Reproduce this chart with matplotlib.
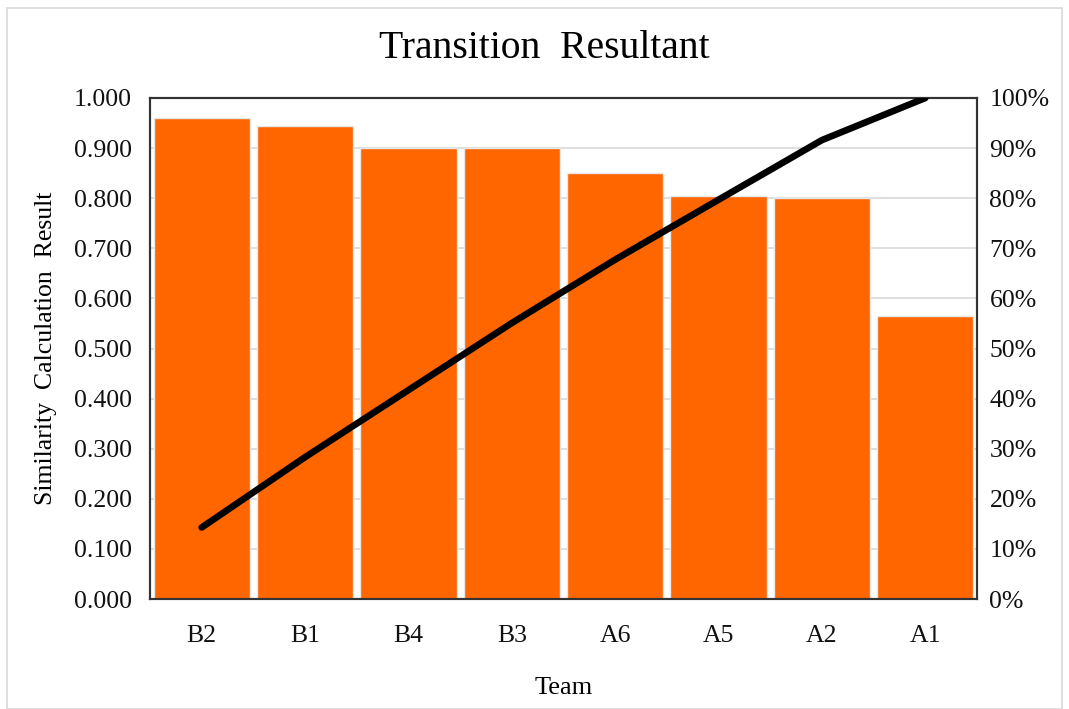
import numpy as np
import matplotlib.pyplot as plt
from matplotlib.ticker import PercentFormatter

plt.rcParams['font.family'] = ['Liberation Serif', 'DejaVu Serif']

# similarity score per team, sorted high to low
teams = ["B2", "B1", "B4", "B3", "A6", "A5", "A2", "A1"]
similarity = [0.960, 0.944, 0.900, 0.900, 0.851, 0.804, 0.800, 0.565]

# cumulative share for the pareto line
cum_share = np.cumsum(similarity) / np.sum(similarity)

fig = plt.figure(figsize=(10.69, 7.09), dpi=100)
ax = fig.add_axes([150 / 1069, 1 - 599 / 709, 827 / 1069, 501 / 709])

x = np.arange(len(teams))
ax.bar(x, similarity, width=0.93, color="#ff6600", edgecolor="#e8e8e8",
       linewidth=1.0, zorder=2)
ax.set_xlim(-0.5, len(teams) - 0.5)
ax.set_ylim(0, 1)
ax.set_yticks(np.arange(0, 1.01, 0.1))
ax.set_yticklabels([f"{v:.3f}" for v in np.arange(0, 1.01, 0.1)])
ax.set_xticks(x)
ax.set_xticklabels(teams)
ax.grid(axis="y", color="#d9d9d9", linewidth=1.2, zorder=0)
ax.set_axisbelow(True)
ax.tick_params(axis="both", length=0, labelsize=18.5, colors="#111111")
ax.tick_params(axis="x", pad=19)
ax.tick_params(axis="y", pad=13)
for s in ax.spines.values():
    s.set_color("#333333")
    s.set_linewidth(1.5)

ax2 = ax.twinx()
ax2.plot(x, cum_share, color="black", linewidth=4.8, solid_capstyle="round", zorder=3)
ax2.set_ylim(0, 1)
ax2.set_yticks(np.arange(0, 1.01, 0.1))
ax2.yaxis.set_major_formatter(PercentFormatter(1.0, decimals=0))
ax2.tick_params(axis="y", length=0, labelsize=18.5, pad=9, colors="#111111")
for s in ax2.spines.values():
    s.set_color("#333333")
    s.set_linewidth(1.5)

ax.set_ylabel("Similarity  Calculation  Result", fontsize=18.5, labelpad=12)
ax.set_xlabel("Team", fontsize=19, labelpad=21)
fig.text(544 / 1069, 1 - 48 / 709, "Transition  Resultant", ha="center", va="center",
         fontsize=28.5)

# light frame around the whole chart
fig.patches.append(plt.Rectangle((7 / 1069, 0.0), 1 - 14 / 1069, 1 - 8 / 709,
                                 transform=fig.transFigure, fill=False,
                                 edgecolor="#d9d9d9", linewidth=1.2))

fig.savefig("out.png", dpi=100)
